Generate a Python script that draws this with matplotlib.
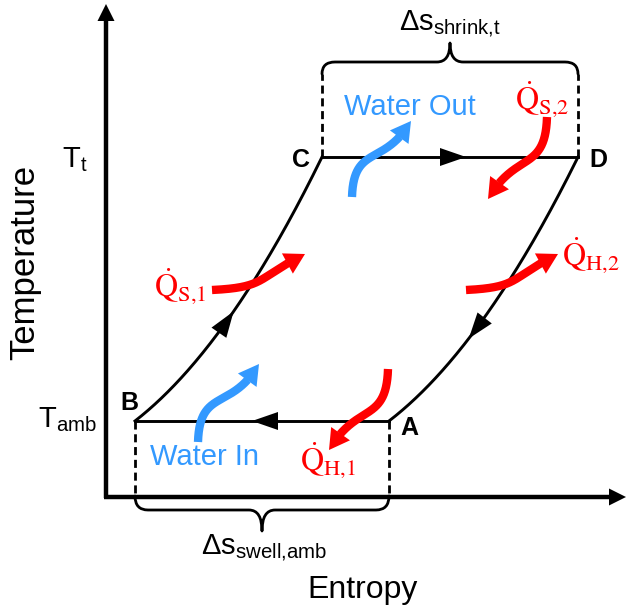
import numpy as np
import matplotlib
matplotlib.use("Agg")
import matplotlib.pyplot as plt
from matplotlib.patches import Polygon, PathPatch
from matplotlib.path import Path

plt.rcParams['font.family'] = ['Liberation Sans', 'DejaVu Sans']
plt.rcParams['mathtext.fontset'] = 'custom'
plt.rcParams['mathtext.rm'] = 'Liberation Sans'
plt.rcParams['mathtext.it'] = 'Liberation Sans:italic'
plt.rcParams['mathtext.bf'] = 'Liberation Sans:bold'

# State points of the cycle (entropy, temperature) in drawing units
state_names = ['A', 'B', 'C', 'D']
state_s = [389, 135, 322, 578]
state_T = [421, 421, 157, 157]
T_labels = [r'$\mathrm{T}_{\mathrm{t}}$', r'$\mathrm{T}_{\mathrm{amb}}$']
curve_lin = 0.55  # linear share of the B->C and A->D curves

RED = '#FF0000'
BLUE = '#3399FF'

S = dict(zip(state_names, zip(state_s, state_T)))

fig = plt.figure(figsize=(6.26, 6.14), dpi=100)
ax = fig.add_axes([0, 0, 1, 1])
ax.set_xlim(0, 626)
ax.set_ylim(614, 0)
ax.axis('off')


def arrowhead(tip, direction, length, width, color):
    tip = np.asarray(tip, float)
    d = np.asarray(direction, float)
    d = d / np.hypot(*d)
    n = np.array([-d[1], d[0]])
    base = tip - d * length
    ax.add_patch(Polygon([tip, base + n * width / 2, base - n * width / 2],
                         closed=True, facecolor=color, edgecolor='none', zorder=5))


def straight_arrow(start, tip, lw, head_len, head_w, color='black'):
    start = np.asarray(start, float)
    tip = np.asarray(tip, float)
    d = (tip - start) / np.hypot(*(tip - start))
    end = tip - d * (head_len - 1)
    ax.plot([start[0], end[0]], [start[1], end[1]], color=color, lw=lw,
            solid_capstyle='butt')
    arrowhead(tip, d, head_len, head_w, color)


def wavy_arrow(tail, tip, d0, d1, color, k=0.55, lw=6, head_len=20, head_w=23):
    tail = np.asarray(tail, float)
    tip = np.asarray(tip, float)
    d0 = np.asarray(d0, float) / np.hypot(*d0)
    d1 = np.asarray(d1, float) / np.hypot(*d1)
    L = np.hypot(*(tip - tail))
    p1 = tail + k * L * d0
    p2 = tip - k * L * d1
    t = np.linspace(0, 1, 300)[:, None]
    pts = ((1 - t) ** 3 * tail + 3 * (1 - t) ** 2 * t * p1
           + 3 * (1 - t) * t ** 2 * p2 + t ** 3 * tip)
    dist = np.hypot(*(pts - tip).T)
    idx = np.where(dist >= head_len)[0][-1]
    base = pts[idx]
    ax.plot(pts[:idx + 3, 0], pts[:idx + 3, 1], color=color, lw=lw,
            solid_capstyle='butt')
    arrowhead(tip, tip - base, head_len, head_w, color)


def cycle_curve(p0, p1):
    u = np.linspace(0, 1, 200)
    x = p0[0] + (p1[0] - p0[0]) * u
    y = p0[1] + (p1[1] - p0[1]) * (curve_lin * u + (1 - curve_lin) * u ** 2)
    return x, y


def brace(x0, x1, y_end, y_mid, y_tip, r=13):
    xm = (x0 + x1) / 2
    verts = [(x0, y_end), (x0, y_mid), (x0 + r, y_mid),
             (xm - r, y_mid),
             (xm, y_mid), (xm, y_tip),
             (xm, y_mid), (xm + r, y_mid),
             (x1 - r, y_mid),
             (x1, y_mid), (x1, y_end)]
    codes = [Path.MOVETO, Path.CURVE3, Path.CURVE3, Path.LINETO,
             Path.CURVE3, Path.CURVE3, Path.CURVE3, Path.CURVE3,
             Path.LINETO, Path.CURVE3, Path.CURVE3]
    ax.add_patch(PathPatch(Path(verts, codes), fill=False, lw=2, edgecolor='black',
                           capstyle='round', joinstyle='round'))


# Axes
straight_arrow((106, 498), (106, 4), 3.2, 17, 17)
straight_arrow((104, 497), (626, 497), 3.2, 17, 17)
ax.text(25, 262, 'Temperature', rotation=90, ha='center', va='center', fontsize=25)
ax.text(363, 590, 'Entropy', ha='center', va='center', fontsize=23)
ax.text(88, 160, T_labels[0], ha='right', va='center', fontsize=21)
ax.text(97, 420, T_labels[1], ha='right', va='center', fontsize=21)

# Cycle
lw_c = 2.1
ax.plot([S['B'][0], S['A'][0]], [S['B'][1], S['A'][1]], color='black', lw=lw_c)
ax.plot([S['C'][0], S['D'][0]], [S['C'][1], S['D'][1]], color='black', lw=lw_c)
xbc, ybc = cycle_curve(S['B'], S['C'])
xad, yad = cycle_curve(S['A'], S['D'])
ax.plot(xbc, ybc, color='black', lw=lw_c)
ax.plot(xad, yad, color='black', lw=lw_c)

# direction arrows on the cycle
arrowhead((466, S['C'][1]), (1, 0), 26, 18, 'black')
arrowhead((252, S['B'][1]), (-1, 0), 26, 18, 'black')
i = 105
arrowhead((xbc[i], ybc[i]), (xbc[i + 1] - xbc[i], ybc[i + 1] - ybc[i]), 26, 18, 'black')
j = 84
arrowhead((xad[j], yad[j]), (xad[j - 1] - xad[j], yad[j - 1] - yad[j]), 26, 18, 'black')

# State labels
ax.text(S['A'][0] + 20, S['A'][1] + 7, 'A', fontsize=18, fontweight='bold', ha='center', va='center')
ax.text(S['B'][0] - 6, S['B'][1] - 18, 'B', fontsize=18, fontweight='bold', ha='center', va='center')
ax.text(S['C'][0] - 21, S['C'][1] + 3, 'C', fontsize=18, fontweight='bold', ha='center', va='center')
ax.text(S['D'][0] + 20, S['D'][1] + 3, 'D', fontsize=18, fontweight='bold', ha='center', va='center')

# Dashed guides and braces
dash = dict(color='black', lw=2, linestyle=(0, (2.9, 1.7)))
ax.plot([S['C'][0], S['C'][0]], [S['C'][1], 74], **dash)
ax.plot([S['D'][0], S['D'][0]], [S['D'][1], 74], **dash)
ax.plot([S['B'][0], S['B'][0]], [S['B'][1], 496], **dash)
ax.plot([S['A'][0], S['A'][0]], [S['A'][1], 496], **dash)
brace(S['C'][0], S['D'][0], 74, 62, 43)
brace(S['B'][0], S['A'][0], 496, 510, 531)
ax.text(450, 24, r'$\mathrm{\Delta s}_{\mathrm{shrink{,}t}}$', ha='center', va='center', fontsize=21)
ax.text(264, 549, r'$\mathrm{\Delta s}_{\mathrm{swell{,}amb}}$', ha='center', va='center', fontsize=21)

# Water flow arrows
wavy_arrow((352, 197), (411, 121), (0.03, -1), (0.5, -0.87), BLUE)
wavy_arrow((198, 442), (259, 364), (0.03, -1), (0.5, -0.87), BLUE)
ax.text(410, 107, 'Water Out', color=BLUE, ha='center', va='center', fontsize=21)
ax.text(205, 457, 'Water In', color=BLUE, ha='center', va='center', fontsize=21)

# Heat flow arrows
wavy_arrow((547, 117), (488, 199), (-0.03, 1), (-0.5, 0.87), RED)
wavy_arrow((388, 369), (329, 450), (-0.03, 1), (-0.5, 0.87), RED)
wavy_arrow((212, 290), (305, 254), (1, -0.05), (0.9, -0.45), RED)
wavy_arrow((466, 290), (558, 254), (1, -0.05), (0.9, -0.45), RED)

qkw = dict(color=RED, ha='center', va='center', fontsize=23, math_fontfamily='stix')
ax.text(542, 99, r'$\dot{\mathrm{Q}}_{\mathrm{S{,}2}}$', **qkw)
ax.text(328, 460, r'$\dot{\mathrm{Q}}_{\mathrm{H{,}1}}$', **qkw)
ax.text(180, 286, r'$\dot{\mathrm{Q}}_{\mathrm{S{,}1}}$', **qkw)
ax.text(591, 255, r'$\dot{\mathrm{Q}}_{\mathrm{H{,}2}}$', **qkw)

fig.savefig('out.png', dpi=100)
